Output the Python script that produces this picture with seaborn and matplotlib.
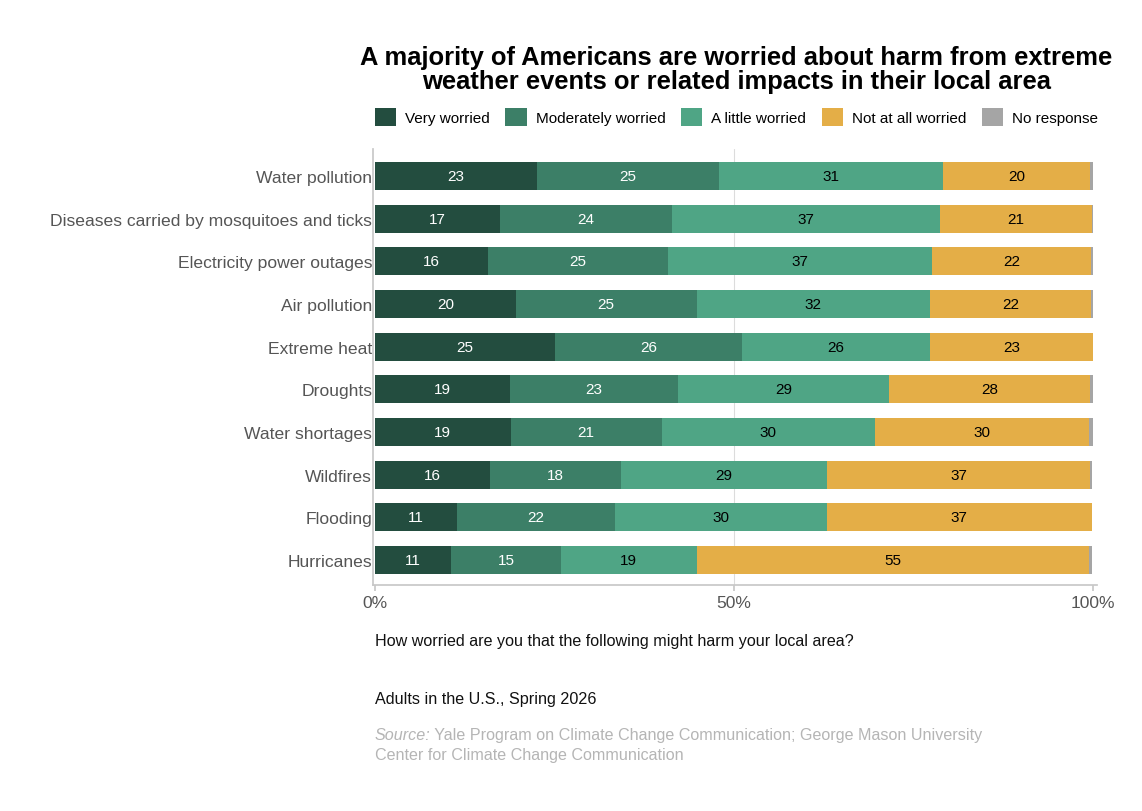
import numpy as np
import pandas as pd
import seaborn as sns
import matplotlib.pyplot as plt
from matplotlib.patches import Patch

# datos (porcentaje de adultos)
temas = ['Water pollution', 'Diseases carried by mosquitoes and ticks',
         'Electricity power outages', 'Air pollution', 'Extreme heat',
         'Droughts', 'Water shortages', 'Wildfires', 'Flooding', 'Hurricanes']
muy = [22.6, 17.4, 15.7, 19.6, 25.1, 18.8, 18.9, 16.0, 11.4, 10.6]
moderado = [25.3, 24.0, 25.1, 25.2, 26.0, 23.4, 21.0, 18.2, 22.0, 15.3]
poco = [31.2, 37.3, 36.8, 32.5, 26.2, 29.4, 29.7, 28.8, 29.5, 18.9]
nada = [20.5, 21.2, 22.1, 22.4, 22.7, 28.0, 29.8, 36.6, 36.9, 54.7]
sin_resp = [0.4, 0.1, 0.3, 0.3, 0.0, 0.4, 0.6, 0.3, 0.1, 0.4]

series = ['Very worried', 'Moderately worried', 'A little worried',
          'Not at all worried', 'No response']
colores = ['#234d3f', '#3c7f67', '#4fa585', '#e4ae47', '#a5a5a5']
color_texto = ['white', 'white', 'black', 'black', None]

datos = pd.DataFrame({'tema': temas, series[0]: muy, series[1]: moderado,
                      series[2]: poco, series[3]: nada, series[4]: sin_resp})
acum = datos[series].cumsum(axis=1)

sns.set_theme(style='white')
plt.rcParams['font.family'] = ['Liberation Sans', 'DejaVu Sans']
plt.rcParams['text.color'] = 'black'

fig = plt.figure(figsize=(11.42, 8.12), dpi=100)
ax = fig.add_axes([0.3265, 0.2783, 0.6338, 0.537])

# barras apiladas: se dibuja la suma acumulada de atras hacia adelante
for s, c in zip(series[::-1], colores[::-1]):
    sns.barplot(x=acum[s], y=datos['tema'], color=c, orient='h', width=0.66,
                saturation=1, linewidth=0, ax=ax, zorder=3)

for i, fila in datos.iterrows():
    izq = 0
    for s, tc in zip(series, color_texto):
        v = fila[s]
        if tc is not None and v >= 3:
            ax.text(izq + v / 2, i, f'{round(v):.0f}', ha='center', va='center',
                    color=tc, fontsize=11, zorder=4)
        izq += v

ax.set_xlim(-0.3, 100.5)
ax.set_ylim(9.585, -0.632)
ax.set_xticks([0, 50, 100])
ax.set_xticklabels(['0%', '50%', '100%'])
ax.set_xlabel('')
ax.set_ylabel('')
ax.axvline(50, color='#dcdcdc', lw=0.8, zorder=1)
for lado in ['top', 'right']:
    ax.spines[lado].set_visible(False)
ax.spines['left'].set_color('#c8c8c8')
ax.spines['bottom'].set_color('#c8c8c8')
ax.tick_params(axis='x', which='major', bottom=True, length=4, color='#c8c8c8',
               labelsize=12.5, labelcolor='#555555', pad=3)
ax.tick_params(axis='y', length=0, labelsize=12.6, labelcolor='#555555', pad=0.5)

fig.text(0.645, 0.943, 'A majority of Americans are worried about harm from extreme\n'
         'weather events or related impacts in their local area',
         ha='center', va='top', fontsize=18.4, fontweight='bold', linespacing=1.0,
         color='black')

manijas = [Patch(facecolor=c, edgecolor='none') for c in colores]
fig.legend(manijas, series, loc='center', bbox_to_anchor=(0.645, 0.855), ncol=5,
           frameon=False, fontsize=11.0, handlelength=1.4, handleheight=1.4,
           handletextpad=0.6, columnspacing=1.0)

fig.text(0.328, 0.21, 'How worried are you that the following might harm your local area?',
         ha='left', va='center', fontsize=11.6, color='#111111')
fig.text(0.328, 0.139, 'Adults in the U.S., Spring 2026',
         ha='left', va='center', fontsize=11.6, color='#111111')
fuente = fig.text(0.328, 0.094, 'Source:', ha='left', va='center', fontsize=11.6,
                  color='#b5b5b5', style='italic')
ax.annotate(' Yale Program on Climate Change Communication; George Mason University',
            xy=(1, 0.5), xycoords=fuente, ha='left', va='center', fontsize=11.6,
            color='#b5b5b5', annotation_clip=False)
fig.text(0.328, 0.070, 'Center for Climate Change Communication',
         ha='left', va='center', fontsize=11.6, color='#b5b5b5')

plt.savefig('out.png', dpi=100)
